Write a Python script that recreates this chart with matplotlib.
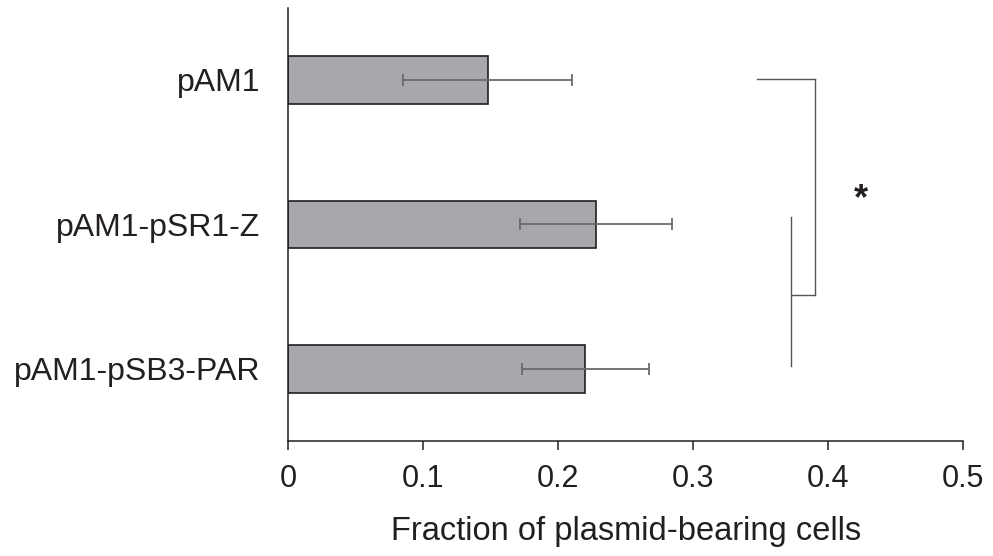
import matplotlib
matplotlib.use("Agg")
import matplotlib.pyplot as plt

categories = ["pAM1", "pAM1-pSR1-Z", "pAM1-pSB3-PAR"]
values = [0.148, 0.228, 0.220]
errors = [0.0625, 0.0565, 0.047]
xticks = [0, 0.1, 0.2, 0.3, 0.4, 0.5]
xticklabels = ["0", "0.1", "0.2", "0.3", "0.4", "0.5"]
xlabel = "Fraction of plasmid-bearing cells"

plt.rcParams['font.family'] = ['Liberation Sans', 'DejaVu Sans']

fig = plt.figure(figsize=(9.93, 5.56), dpi=100)
ax = fig.add_axes([0.290, 0.207, 0.680, 0.779])

ypos = [2, 1, 0]
ax.barh(ypos, values, height=0.33, color="#a7a8ab", edgecolor="#231f20", linewidth=1.2, zorder=2)
ax.errorbar(values, ypos, xerr=errors, fmt="none", ecolor="#6a6a6a", elinewidth=1.3,
            capsize=4.3, capthick=1.3, zorder=3)

ax.set_xlim(0, 0.5)
ax.set_ylim(-0.5, 2.5)
ax.set_xticks(xticks)
ax.set_xticklabels(xticklabels)
ax.set_yticks(ypos)
ax.set_yticklabels(categories)
ax.tick_params(axis='x', direction='out', length=6.5, width=1.1, color="#231f20",
               labelsize=22, pad=10, labelcolor="#231f20")
ax.tick_params(axis='y', length=0, labelsize=23, pad=20, labelcolor="#231f20")
ax.set_xlabel(xlabel, fontsize=23.5, labelpad=16, color="#231f20")

for s in ["top", "right"]:
    ax.spines[s].set_visible(False)
for s in ["left", "bottom"]:
    ax.spines[s].set_linewidth(1.1)
    ax.spines[s].set_color("#231f20")

bc = "#555555"
lw = 1.0
ax.plot([0.347, 0.39], [2.007, 2.007], color=bc, lw=lw, clip_on=False)
ax.plot([0.39, 0.39], [2.007, 0.51], color=bc, lw=lw, clip_on=False)
ax.plot([0.3725, 0.39], [0.51, 0.51], color=bc, lw=lw, clip_on=False)
ax.plot([0.3725, 0.3725], [1.054, 0.016], color=bc, lw=lw, clip_on=False)
ax.text(0.424, 1.17, "*", fontsize=26, fontweight="bold", ha="center", va="center", color="#231f20")

fig.savefig("out.png", dpi=100)
